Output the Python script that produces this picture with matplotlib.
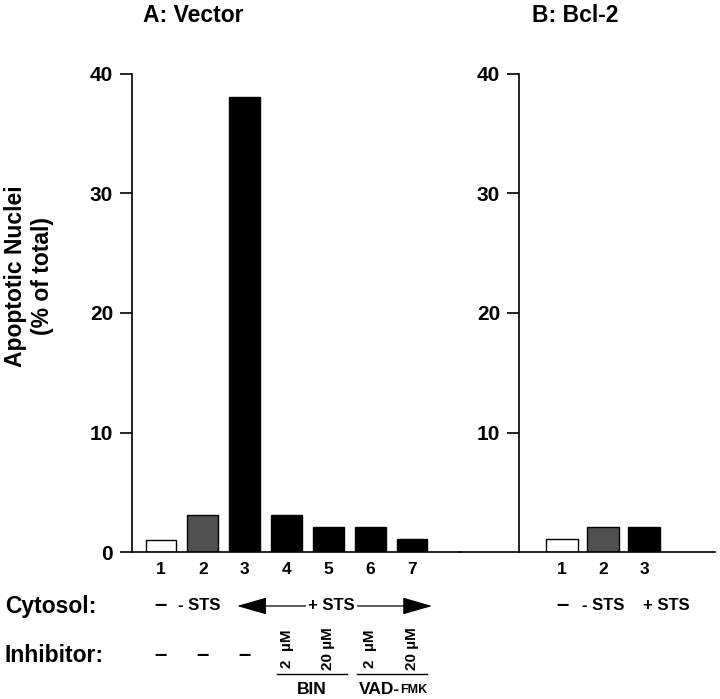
import matplotlib
matplotlib.use('Agg')
import matplotlib.pyplot as plt
import numpy as np
from matplotlib.transforms import blended_transform_factory

plt.rcParams['font.family'] = ['Liberation Sans', 'DejaVu Sans']
plt.rcParams['font.weight'] = 'bold'

# data
vector_lanes = ['1', '2', '3', '4', '5', '6', '7']
vector_values = [1.0, 3.1, 38.1, 3.1, 2.1, 2.1, 1.1]
bcl2_lanes = ['1', '2', '3']
bcl2_values = [1.1, 2.1, 2.1]
y_ticks = [0, 10, 20, 30, 40]
cytosol_vector = ['–', '- STS']
cytosol_bcl2 = ['–', '- STS', '+ STS']
inhibitor_none = ['–', '–', '–']
inhibitor_conc = ['2  µM', '20 µM', '2  µM', '20 µM']

# styles
vector_colors = ['white', '#505050', 'black', 'black', 'black', 'black', 'black']
bcl2_colors = ['white', '#505050', 'black']

W, H = 720, 699


def fx(px):
    return px / W


def fy(py):
    return 1 - py / H


fig = plt.figure(figsize=(7.2, 6.99), dpi=100)
axA = fig.add_axes([fx(132), fy(552), fx(460) - fx(132), fy(74) - fy(552)])
axB = fig.add_axes([fx(460), fy(552), fx(715) - fx(460), fy(74) - fy(552)])

xa = np.arange(1, len(vector_values) + 1)
xb = np.arange(1, len(bcl2_values) + 1)
axA.bar(xa, vector_values, width=0.74, color=vector_colors, edgecolor='black', linewidth=1.0)
axB.bar(xb, bcl2_values, width=0.76, color=bcl2_colors, edgecolor='black', linewidth=1.0)

axA.set_xlim(0.307, 8.147)
axB.set_xlim(-1.488, 4.73)
for ax in (axA, axB):
    ax.set_ylim(0, 40)
    ax.spines['top'].set_visible(False)
    ax.spines['right'].set_visible(False)
    ax.spines['left'].set_linewidth(1.2)
    ax.spines['bottom'].set_linewidth(1.2)
    ax.tick_params(axis='y', length=8.6, width=1.2, pad=5, labelsize=15)
    ax.tick_params(axis='x', length=0, pad=7, labelsize=12.5)
    ax.patch.set_alpha(0)

axA.set_yticks(y_ticks)
axB.set_yticks(y_ticks[1:])
axB.spines['left'].set_position(('data', -0.05))
axA.set_xticks(xa, vector_lanes)
axB.set_xticks(xb, bcl2_lanes)

tA = blended_transform_factory(axA.transData, fig.transFigure)
tB = blended_transform_factory(axB.transData, fig.transFigure)

# titles and y label
fig.text(fx(193), fy(15), 'A: Vector', ha='center', va='center', fontsize=16.5)
fig.text(fx(575), fy(15), 'B: Bcl-2', ha='center', va='center', fontsize=16.5)
fig.text(fx(29), fy(276), 'Apoptotic Nuclei\n(% of total)', rotation=90, ha='center',
         va='center', fontsize=16.5, linespacing=1.2, multialignment='center')

# row labels
fig.text(fx(5), fy(606), 'Cytosol:', ha='left', va='center', fontsize=16.5)
fig.text(fx(5), fy(655), 'Inhibitor:', ha='left', va='center', fontsize=16.5)

# cytosol row, panel A
y_cyt = fy(606)
axA.text(xa[0], y_cyt, cytosol_vector[0], transform=tA, ha='center', va='center', fontsize=16)
axA.text(xa[1] - 0.08, y_cyt, cytosol_vector[1], transform=tA, ha='center', va='center', fontsize=12)
axA.annotate('', xy=(xa[6] + 0.48, y_cyt), xytext=(xa[2] - 0.18, y_cyt),
             xycoords=tA, textcoords=tA,
             arrowprops=dict(arrowstyle='<|-|>,head_length=1.87,head_width=0.54',
                             mutation_scale=10, shrinkA=0, shrinkB=0,
                             color='black', lw=0.9))
axA.text(xa[4] + 0.08, y_cyt, '+ STS', transform=tA, ha='center', va='center', fontsize=12,
         bbox=dict(facecolor='white', edgecolor='none', pad=1.5))

# cytosol row, panel B
axB.text(xb[0], y_cyt, cytosol_bcl2[0], transform=tB, ha='center', va='center', fontsize=16)
axB.text(xb[1], y_cyt, cytosol_bcl2[1], transform=tB, ha='center', va='center', fontsize=12)
axB.text(xb[2] - 0.03, y_cyt, cytosol_bcl2[2], transform=tB, ha='left', va='center', fontsize=12)

# inhibitor row
y_inh = fy(655)
for x, s in zip(xa[:3], inhibitor_none):
    axA.text(x, y_inh, s, transform=tA, ha='center', va='center', fontsize=16)
for x, s in zip(xa[3:], inhibitor_conc):
    axA.text(x, fy(649), s, transform=tA, ha='center', va='center', rotation=90, fontsize=11)

y_line = fy(674)
axA.plot([xa[3] - 0.23, xa[4] + 0.44], [y_line, y_line], transform=tA, color='black', lw=1.0, clip_on=False)
axA.plot([xa[5] - 0.32, xa[6] + 0.36], [y_line, y_line], transform=tA, color='black', lw=1.0, clip_on=False)
axA.text((xa[3] + xa[4]) / 2 + 0.1, fy(690), 'BIN', transform=tA, ha='center', va='center', fontsize=12.5)
axA.text(xa[5] + 0.72, fy(690), 'VAD-', transform=tA, ha='right', va='center', fontsize=12.5)
axA.text(xa[5] + 0.72, fy(690), 'FMK', transform=tA, ha='left', va='center', fontsize=9)

fig.savefig('out.png', dpi=100)
